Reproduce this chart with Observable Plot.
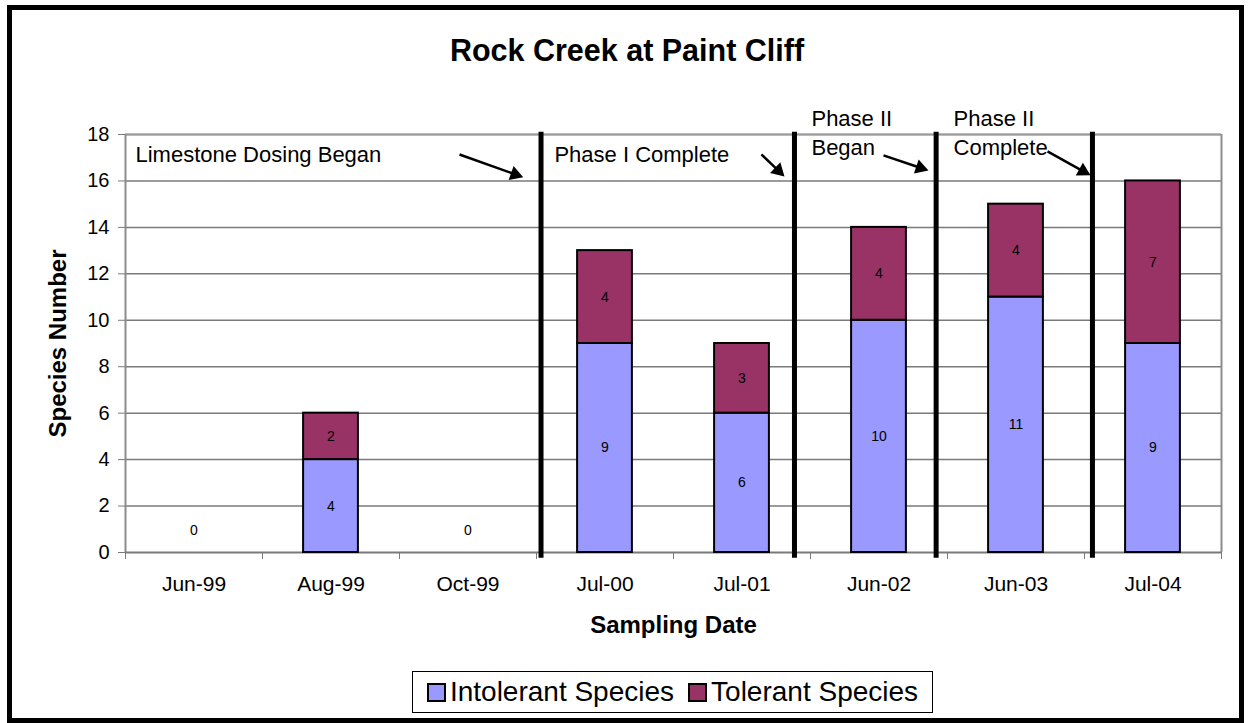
<!DOCTYPE html>
<html>
<head>
<meta charset="utf-8">
<script src="https://cdn.jsdelivr.net/npm/d3@7"></script>
<script src="https://cdn.jsdelivr.net/npm/@observablehq/plot@0.6"></script>
<style>
  html, body { margin: 0; padding: 0; background: #fff; }
  body { width: 1248px; height: 723px; overflow: hidden; position: relative; font-family: "Liberation Sans", Arial, sans-serif; }
  #frame { position: absolute; left: 7px; top: 5px; width: 1237px; height: 718px; border: 5px solid #000; box-sizing: border-box; }
  #title { position: absolute; left: 0; width: 1254px; top: 35px; text-align: center; font-size: 30.5px; line-height: 30px; font-weight: bold; }
  #chart { position: absolute; left: 0; top: 0; }
  #legend { position: absolute; left: 412px; top: 671px; width: 521px; height: 42px; border: 1.5px solid #000; box-sizing: border-box;
            display: flex; align-items: center; justify-content: center; font-size: 28px; gap: 14px; }
  .item { display: flex; align-items: center; }
  .sw { width: 15px; height: 15px; border: 2px solid #000; margin-right: 4px; }
</style>
</head>
<body>
<div id="frame"></div>
<div id="title">Rock Creek at Paint Cliff</div>
<div id="chart"></div>
<div id="legend"></div>
<script>
// ---- data ----
const categories = ["Jun-99", "Aug-99", "Oct-99", "Jul-00", "Jul-01", "Jun-02", "Jun-03", "Jul-04"];
const intolerant = [0, 4, 0, 9, 6, 10, 11, 9];
const tolerant   = [0, 2, 0, 4, 3, 4, 4, 7];
const yTicks = [0, 2, 4, 6, 8, 10, 12, 14, 16, 18];
const seriesNames = ["Intolerant Species", "Tolerant Species"];
const seriesColors = ["#9999FF", "#993366"];
// phase markers (position along the category axis, in category units)
const phaseLines = [3.033, 4.883, 5.917, 7.058];
const noteTexts = ["Limestone Dosing Began", "Phase I Complete", "Phase II", "Began", "Phase II", "Complete"];
const noteX = [0.073, 3.131, 5.007, 5.007, 6.044, 6.044];
const noteY = [17.1, 17.1, 18.69, 17.4, 18.69, 17.4];
const arrowX1 = [2.438, 4.642, 5.533, 6.730];
const arrowY1 = [17.14, 17.14, 17.10, 17.27];
const arrowX2 = [2.903, 4.810, 5.861, 7.044];
const arrowY2 = [16.16, 16.19, 16.45, 16.24];

// ---- layout ----
const W = 1248, H = 660;
const mL = 125, mR = 27, mT = 134, mB = 108;
const pxX = (W - mL - mR) / 8, pxY = (H - mT - mB) / 18;
const font = '"Liberation Sans", Arial, sans-serif';

// bars
const barW = 0.2;
const intoRows = categories.map((c, i) => ({i, y1: 0, y2: intolerant[i], v: intolerant[i]})).filter(d => d.v > 0);
const tolRows = categories.map((c, i) => ({i, y1: intolerant[i], y2: intolerant[i] + tolerant[i], v: tolerant[i]})).filter(d => d.v > 0);
const labelRows = [...intoRows, ...tolRows].map(d => ({x: d.i + 0.5, y: (d.y1 + d.y2) / 2, t: String(d.v)}));
const zeroRows = categories.map((c, i) => ({x: i + 0.5, t: "0", tot: intolerant[i] + tolerant[i]})).filter(d => d.tot === 0);

// arrows: shaft + triangular head
const r = 5.5;
const apex = 2 * Math.sqrt(Math.PI * r * r / (3 * Math.sqrt(3)));
const arrows = arrowX1.map((x1, k) => {
  const sx = (arrowX2[k] - x1) * pxX, sy = -(arrowY2[k] - arrowY1[k]) * pxY;
  const len = Math.hypot(sx, sy), ux = sx / len, uy = sy / len;
  return {
    x1, y1: arrowY1[k],
    cx: arrowX2[k] - apex * ux / pxX,
    cy: arrowY2[k] + apex * uy / pxY,
    sx2: arrowX2[k] - apex * 1.2 * ux / pxX,
    sy2: arrowY2[k] + apex * 1.2 * uy / pxY,
    rot: Math.atan2(sx, -sy) * 180 / Math.PI
  };
});
const notes = noteTexts.map((t, k) => ({t, x: noteX[k], y: noteY[k]}));

const chart = Plot.plot({
  width: W, height: H,
  marginLeft: mL, marginRight: mR, marginTop: mT, marginBottom: mB,
  x: {domain: [0, 8]},
  y: {domain: [0, 18]},
  style: {fontFamily: font, fontSize: "20px", color: "#000", background: "transparent", overflow: "visible"},
  marks: [
    Plot.ruleY(yTicks.filter(d => d > 0), {stroke: "#7a7a7a", strokeWidth: 1.5}),
    Plot.ruleY([18], {stroke: "#9a9a9a", strokeWidth: 2}),
    Plot.ruleX([0, 8], {stroke: "#8c8c8c", strokeWidth: 2}),
    Plot.ruleY([0], {stroke: "#7a7a7a", strokeWidth: 2}),
    Plot.axisY(yTicks, {tickSize: 7, tickPadding: 9, tickFormat: d => d, label: null, stroke: "#7a7a7a", fill: "#000", fontSize: 20}),
    Plot.axisX(d3.range(0, 9), {tickSize: 7, tickFormat: () => "", label: null, stroke: "#7a7a7a"}),
    Plot.axisX(categories.map((c, i) => i + 0.5), {tickSize: 0, tickPadding: 24, tickFormat: d => categories[Math.round(d - 0.5)], label: null, fill: "#000", fontSize: 21}),
    Plot.rect(intoRows, {x1: d => d.i + 0.5 - barW, x2: d => d.i + 0.5 + barW, y1: "y1", y2: "y2", fill: seriesColors[0], stroke: "#000", strokeWidth: 2}),
    Plot.rect(tolRows, {x1: d => d.i + 0.5 - barW, x2: d => d.i + 0.5 + barW, y1: "y1", y2: "y2", fill: seriesColors[1], stroke: "#000", strokeWidth: 2}),
    Plot.text(labelRows, {x: "x", y: "y", text: "t", fontSize: 14, fill: "#000"}),
    Plot.text(zeroRows, {x: "x", y: () => 0, text: "t", dy: -22, fontSize: 14, fill: "#000"}),
    Plot.ruleX(phaseLines, {y1: -0.25, y2: 18.1, stroke: "#000", strokeWidth: 5}),
    Plot.link(arrows, {x1: "x1", y1: "y1", x2: "sx2", y2: "sy2", stroke: "#000", strokeWidth: 2.5}),
    Plot.dot(arrows, {x: "cx", y: "cy", symbol: "triangle", r: r, rotate: "rot", fill: "#000", stroke: "none"}),
    Plot.text(notes, {x: "x", y: "y", text: "t", textAnchor: "start", fontSize: 22, fill: "#000"}),
    Plot.text(["Species Number"], {frameAnchor: "left", textAnchor: "middle", lineAnchor: "middle", dx: -67, rotate: -90, text: d => d, fontWeight: "bold", fontSize: 24, fill: "#000"}),
    Plot.text(["Sampling Date"], {frameAnchor: "bottom", textAnchor: "middle", lineAnchor: "middle", dy: 73, text: d => d, fontWeight: "bold", fontSize: 24, fill: "#000"})
  ]
});
document.getElementById("chart").appendChild(chart);

const legend = document.getElementById("legend");
seriesNames.forEach((n, k) => {
  const it = document.createElement("div");
  it.className = "item";
  const sw = document.createElement("div");
  sw.className = "sw";
  sw.style.background = seriesColors[k];
  const tx = document.createElement("span");
  tx.textContent = n;
  it.appendChild(sw); it.appendChild(tx);
  legend.appendChild(it);
});
</script>
</body>
</html>
